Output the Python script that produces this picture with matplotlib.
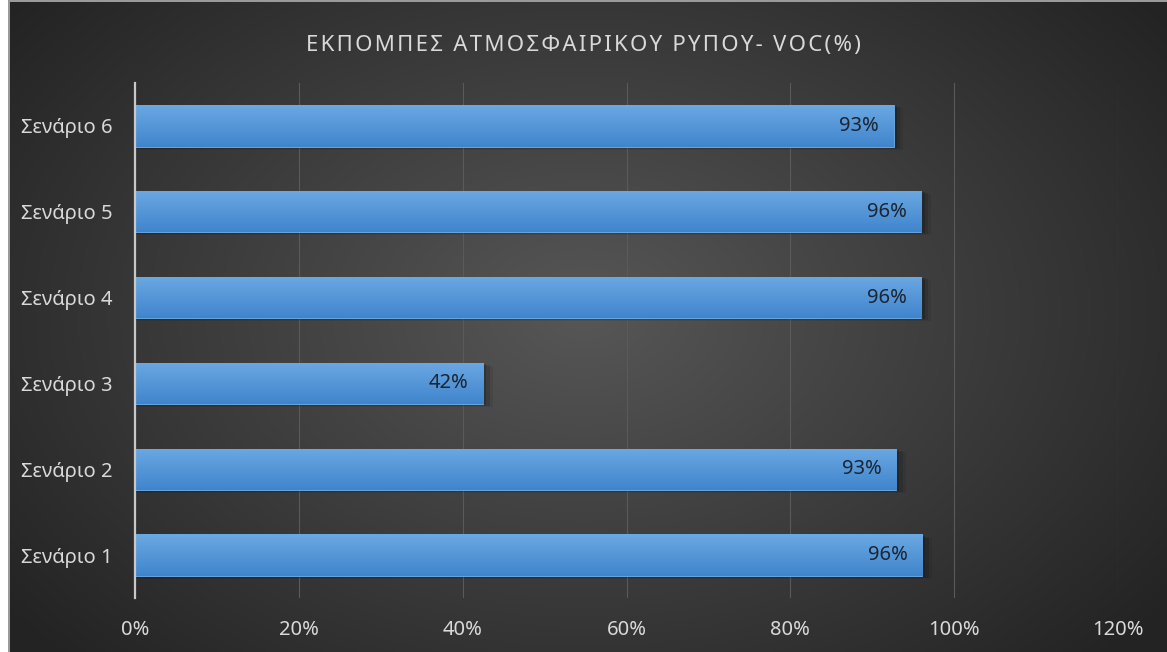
import numpy as np
import matplotlib.pyplot as plt
from matplotlib.patches import Rectangle
from matplotlib.ticker import FuncFormatter

plt.rcParams['font.family'] = ['Noto Sans', 'DejaVu Sans']

scenarios = ["Σενάριο 1", "Σενάριο 2", "Σενάριο 3", "Σενάριο 4", "Σενάριο 5", "Σενάριο 6"]
voc_share = [0.961, 0.929, 0.425, 0.960, 0.960, 0.926]
title = "ΕΚΠΟΜΠΕΣ ΑΤΜΟΣΦΑΙΡΙΚΟΥ ΡΥΠΟΥ- VOC(%)"

W, H = 1167, 652
fig = plt.figure(figsize=(W / 100, H / 100), dpi=100)

# radial background, lighter in the middle
bg = fig.add_axes([0, 0, 1, 1])
yy, xx = np.mgrid[0:H, 0:W]
r = np.sqrt(((xx - W * 0.5) / (W * 0.62)) ** 2 + ((yy - H * 0.48) / (H * 0.75)) ** 2)
shade = np.clip(0.34 - 0.20 * r, 0.14, 0.34)
bg.imshow(np.dstack([shade] * 3), extent=[0, W, H, 0], aspect='auto')
bg.set_xlim(0, W)
bg.set_ylim(H, 0)
bg.axis('off')
bg.add_patch(Rectangle((0, 0), 8, H, color='white', lw=0))
bg.add_patch(Rectangle((8, 0), 1.5, H, color='#9a9a9a', lw=0))
bg.add_patch(Rectangle((8, 0), W, 1.5, color='#9a9a9a', lw=0))

ax = fig.add_axes([135 / W, (H - 598) / H, (1118 - 135) / W, (598 - 83) / H])
ax.patch.set_alpha(0)

pos = np.arange(len(scenarios))
bar_h = 0.48

# soft drop shadow under each bar
for y, v in zip(pos, voc_share):
    for k, a in enumerate([0.18, 0.12, 0.07]):
        d = 0.012 * (k + 1)
        ax.add_patch(Rectangle((0, y - bar_h / 2 - d), v + 0.004 * (k + 1), bar_h,
                               color='black', alpha=a, lw=0, zorder=2))

bars = ax.barh(pos, voc_share, height=bar_h, color='#5598d8', zorder=3,
               edgecolor='#6fb0ee', linewidth=0.6)

grad = np.linspace(0, 1, 64)[:, None]
top_c = np.array([0.42, 0.66, 0.89])
bot_c = np.array([0.25, 0.52, 0.80])
cols = top_c * (1 - grad[..., None]) + bot_c * grad[..., None]
for b, y, v in zip(bars, pos, voc_share):
    im = ax.imshow(cols, extent=[0, v, y - bar_h / 2, y + bar_h / 2],
                   aspect='auto', origin='upper', zorder=3.5)
    im.set_clip_path(b)
    ax.text(v - 0.018, y, f"{v:.0%}", ha='right', va='center',
            fontsize=14.5, color='#1b2533', zorder=5)

ax.set_xlim(0, 1.2)
ax.set_ylim(-0.5, 5.5)
ax.set_xticks(np.arange(0, 1.21, 0.2))
ax.xaxis.set_major_formatter(FuncFormatter(lambda x, _: f"{x * 100:.0f}%"))
ax.set_yticks(pos)
ax.set_yticklabels(scenarios)
ax.tick_params(axis='both', length=0, colors='#d9d9d9', labelsize=14.5)
ax.tick_params(axis='x', pad=16)
ax.tick_params(axis='y', pad=16)
ax.grid(axis='x', color='#5a5a5a', lw=0.8, zorder=1)
for s in ['top', 'right', 'bottom']:
    ax.spines[s].set_visible(False)
ax.spines['left'].set_color('#c8c8c8')
ax.spines['left'].set_linewidth(1.6)
ax.spines['left'].set_zorder(4)

spaced = "\u200a".join(title)
fig.text(0.5, (H - 45) / H, spaced, ha='center', va='center',
         fontsize=16, color='#d9d9d9')

fig.savefig("out.png", dpi=100)
